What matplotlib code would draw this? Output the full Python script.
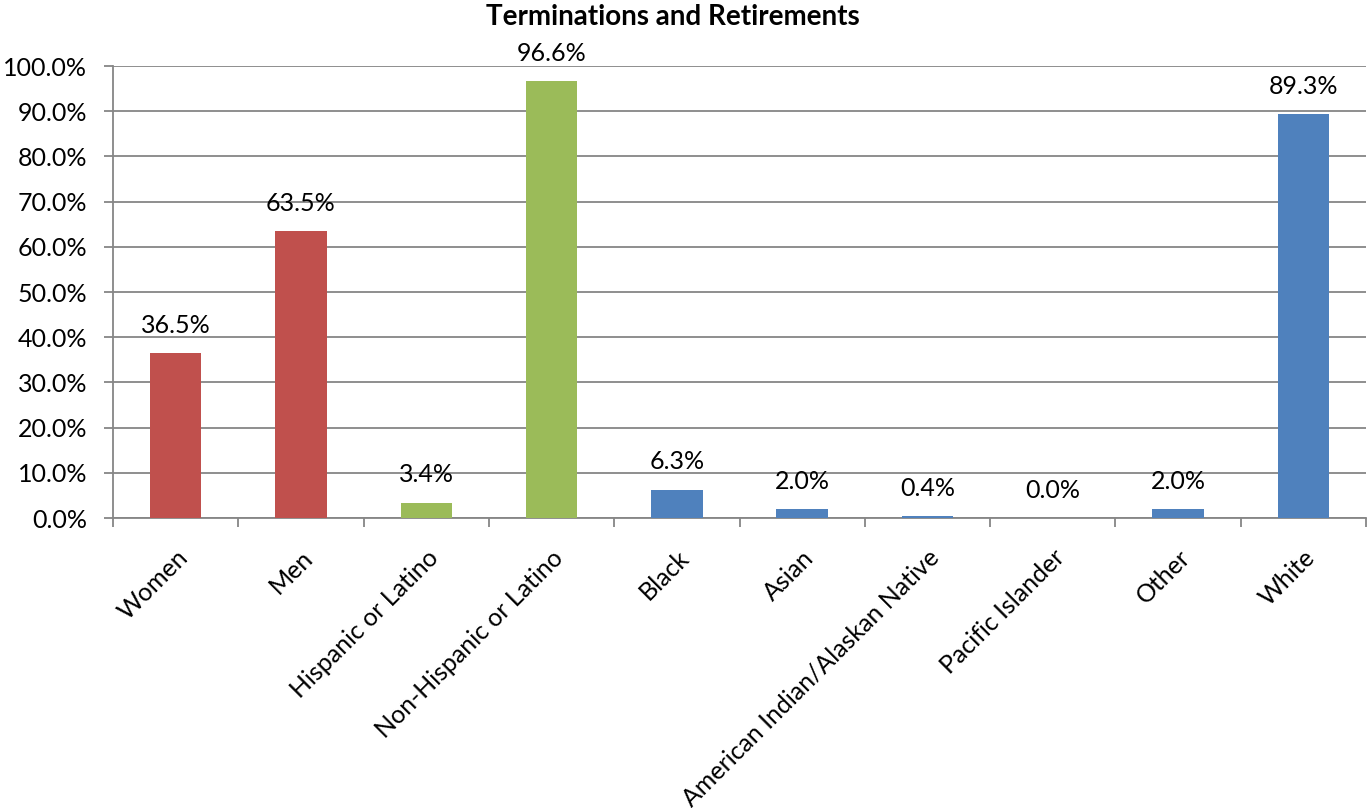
import matplotlib
matplotlib.use("Agg")
import matplotlib.pyplot as plt
from matplotlib.ticker import FuncFormatter

categories = ["Women", "Men", "Hispanic or Latino", "Non-Hispanic or Latino",
              "Black", "Asian", "American Indian/Alaskan Native",
              "Pacific Islander", "Other", "White"]
values = [36.5, 63.5, 3.4, 96.6, 6.3, 2.0, 0.4, 0.0, 2.0, 89.3]
groups = ["sex", "sex", "eth", "eth", "race", "race", "race", "race", "race", "race"]
group_colors = {"sex": "#C0504D", "eth": "#9BBB59", "race": "#4F81BD"}

plt.rcParams["font.family"] = ["Lato", "DejaVu Sans"]

fig = plt.figure(figsize=(13.71, 8.08), dpi=100)
ax = fig.add_axes([113 / 1371, 1 - 518 / 808, (1366 - 113) / 1371, (518 - 66) / 808])

x = list(range(len(categories)))
colors = [group_colors[g] for g in groups]
ax.bar(x, values, width=0.41, color=colors, zorder=3)

for xi, v in zip(x, values):
    ax.text(xi, v + 3.6, f"{v:.1f}%", ha="center", va="bottom", fontsize=18, color="black")

ax.set_xlim(-0.5, len(categories) - 0.5)
ax.set_ylim(0, 100)
ax.set_yticks(range(0, 101, 10))
ax.yaxis.set_major_formatter(FuncFormatter(lambda v, p: f"{v:.1f}%"))
ax.tick_params(axis="y", labelsize=18, length=6.5, width=1.3, color="#868686", pad=12)
ax.grid(axis="y", color="#868686", linewidth=1.3, zorder=0)

# ticks between categories, labels under each bar
ax.set_xticks([i - 0.5 for i in range(len(categories) + 1)], minor=False)
ax.set_xticklabels([])
ax.tick_params(axis="x", length=6.5, width=1.3, color="#868686")
ax.set_xticks(x, minor=True)
ax.set_xticklabels(categories, minor=True, rotation=45, ha="right",
                   rotation_mode="anchor", fontsize=18)
ax.tick_params(axis="x", which="minor", length=0, pad=20)

for side in ["top", "right"]:
    ax.spines[side].set_visible(False)
for side in ["left", "bottom"]:
    ax.spines[side].set_color("#868686")
    ax.spines[side].set_linewidth(1.3)

fig.text(673 / 1371, 1 - 17 / 808, "Terminations and Retirements",
         ha="center", va="center", fontsize=20, fontweight="bold")

fig.savefig("out.png", dpi=100)
